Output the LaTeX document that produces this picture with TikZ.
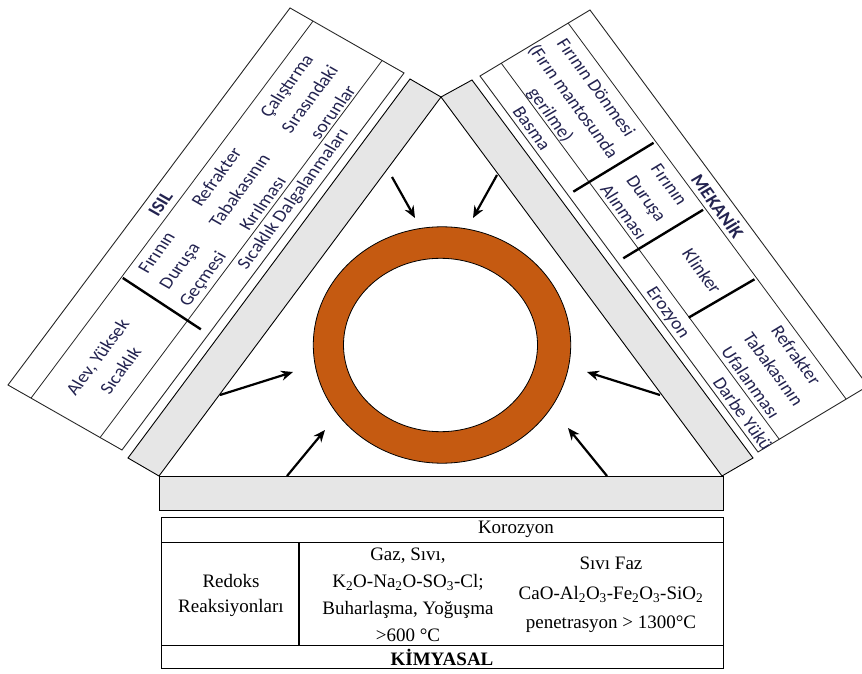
\documentclass[tikz,border=0pt]{standalone}
\usepackage{fontspec}
\setmainfont{Liberation Serif}
\newfontfamily\calib{Carlito}
\usetikzlibrary{arrows.meta}
\definecolor{ringc}{RGB}{197,90,17}
\definecolor{barc}{RGB}{230,230,230}
\definecolor{txtc}{RGB}{35,35,80}
\begin{document}
\begin{tikzpicture}[x=1pt,y=1pt,
  bar/.style={fill=barc,draw=black,line width=0.9pt},
  panel/.style={draw=black!85,line width=0.9pt},
  thinline/.style={draw=black!85,line width=0.8pt},
  thickline/.style={draw=black,line width=2.4pt},
  ptxt/.style={font=\calib\fontsize{18.5}{26.5}\selectfont,text=txtc,align=center,inner sep=0pt,transform shape},
  phead/.style={ptxt,font=\calib\bfseries\fontsize{18.5}{26.5}\selectfont},
  ttxt/.style={font=\fontsize{19}{27.2}\selectfont,align=center,inner sep=0pt},
  arr/.style={line width=2.2pt,-{Stealth[length=12pt,width=10pt]}},
]
\useasboundingbox (0,0) rectangle (862,673);
\clip (0,0) rectangle (862,673);

% left panel (ISIL)
\begin{scope}[cm={0.5990,0.8008,-0.8689,0.4954,(8pt,288pt)}]
 \draw[panel] (0,0) rectangle (470.8,-131.2);
 \draw[thinline] (0,-26.5) -- (470.8,-26.5);
 \draw[thinline] (0,-106) -- (470.8,-106);
 \draw[thickline] (151,-28) -- (145,-122);
 \node[phead] (isil) at (235,-13.5) {ISIL};
 \node[ptxt] (alev) at (69,-68.5) {Alev, Yüksek\\Sıcaklık};
 \node[ptxt] (durusa) at (190,-68) {Fırının\\Duruşa\\Geçmesi};
 \node[ptxt] (refr) at (286,-69) {Refrakter\\Tabakasının\\Kırılması};
 \node[ptxt] (calis) at (401,-70.5) {Çalıştırma\\Sırasındaki\\sorunlar};
 \node[ptxt] (dalga) at (305,-118.5) {Sıcaklık Dalgalanmaları};
\end{scope}

% right panel (MEKANIK)
\begin{scope}[cm={0.5945,-0.8041,0.8574,0.5144,(590pt,663pt)}]
 \draw[panel] (0,0) rectangle (467.6,-128.3);
 \draw[thinline] (0,-25.5) -- (467.6,-25.5);
 \draw[thinline] (0,-103.5) -- (467.6,-103.5);
 \draw[thickline] (147.3,-28) -- (147.9,-122);
 \draw[thickline] (230.6,-28) -- (231.1,-121.4);
 \draw[thickline] (317,-28) -- (316,-104);
 \node[phead] (mek) at (235,-13) {MEKANİK};
 \node[ptxt] (donme) at (70,-69) {Fırının Dönmesi\\(Fırın mantosunda\\gerilme)};
 \node[ptxt] (basma) at (72,-118) {Basma};
 \node[ptxt] (alinma) at (191.5,-67) {Fırının\\Duruşa\\Alınması};
 \node[ptxt] (klinker) at (283,-65.5) {Klinker};
 \node[ptxt] (ufal) at (404,-66) {Refrakter\\Tabakasının\\Ufalanması};
 \node[ptxt] (eroz) at (301,-118.5) {Erozyon};
 \node[ptxt] (darbe) at (427,-117.6) {Darbe Yükü};
\end{scope}

% gray bars
\draw[bar] (128,215) -- (410,594) -- (441,576) -- (159,197) -- cycle;
\draw[bar] (472,593) -- (753,215) -- (722,197) -- (441,576) -- cycle;
\draw[bar] (159,163) rectangle (723,197);

% table
\draw[line width=1pt] (161,5) rectangle (723,156);
\draw[line width=0.8pt] (161,131) -- (723,131);
\draw[line width=0.8pt] (161,28) -- (723,28);
\draw[line width=2pt] (299,131) -- (299,28);
\node[ttxt] (koroz) at (516,143.5) {Korozyon};
\node[ttxt,font=\fontsize{19}{25}\selectfont] (redoks) at (231,77.5) {Redoks\\Reaksiyonları};
\node[ttxt] (gaz) at (408,78.3) {Gaz, Sıvı,\\K\textsubscript{2}O-Na\textsubscript{2}O-SO\textsubscript{3}-Cl;\\Buharlaşma, Yoğuşma\\>600 °C};
\node[ttxt,font=\fontsize{19}{29.5}\selectfont] (sivifaz) at (611,78) {Sıvı Faz\\CaO-Al\textsubscript{2}O\textsubscript{3}-Fe\textsubscript{2}O\textsubscript{3}-SiO\textsubscript{2}\\penetrasyon > 1300°C};
\node[ttxt,font=\bfseries\fontsize{19}{27}\selectfont] (kimya) at (442,16) {KİMYASAL};

% ring
\fill[ringc,even odd rule] (442,328) ellipse [x radius=128.7pt,y radius=118.2pt]
  (440.5,328) ellipse [x radius=97pt,y radius=86.7pt];
\draw[line width=0.8pt] (442,328) ellipse [x radius=128.7pt,y radius=118.2pt];
\draw[line width=0.8pt] (440.5,328) ellipse [x radius=97pt,y radius=86.7pt];

% arrows
\coordinate (a1s) at (392,496); \coordinate (a1e) at (415,455);
\coordinate (a2s) at (497,498); \coordinate (a2e) at (473,455);
\coordinate (a3s) at (220,278); \coordinate (a3e) at (293,301);
\coordinate (a4s) at (287,197); \coordinate (a4e) at (325,243);
\coordinate (a5s) at (660,278); \coordinate (a5e) at (587,301);
\coordinate (a6s) at (607,197); \coordinate (a6e) at (568,245);
\foreach \i in {1,...,6} \draw[arr] (a\i s) -- (a\i e);
\end{tikzpicture}
\end{document}
